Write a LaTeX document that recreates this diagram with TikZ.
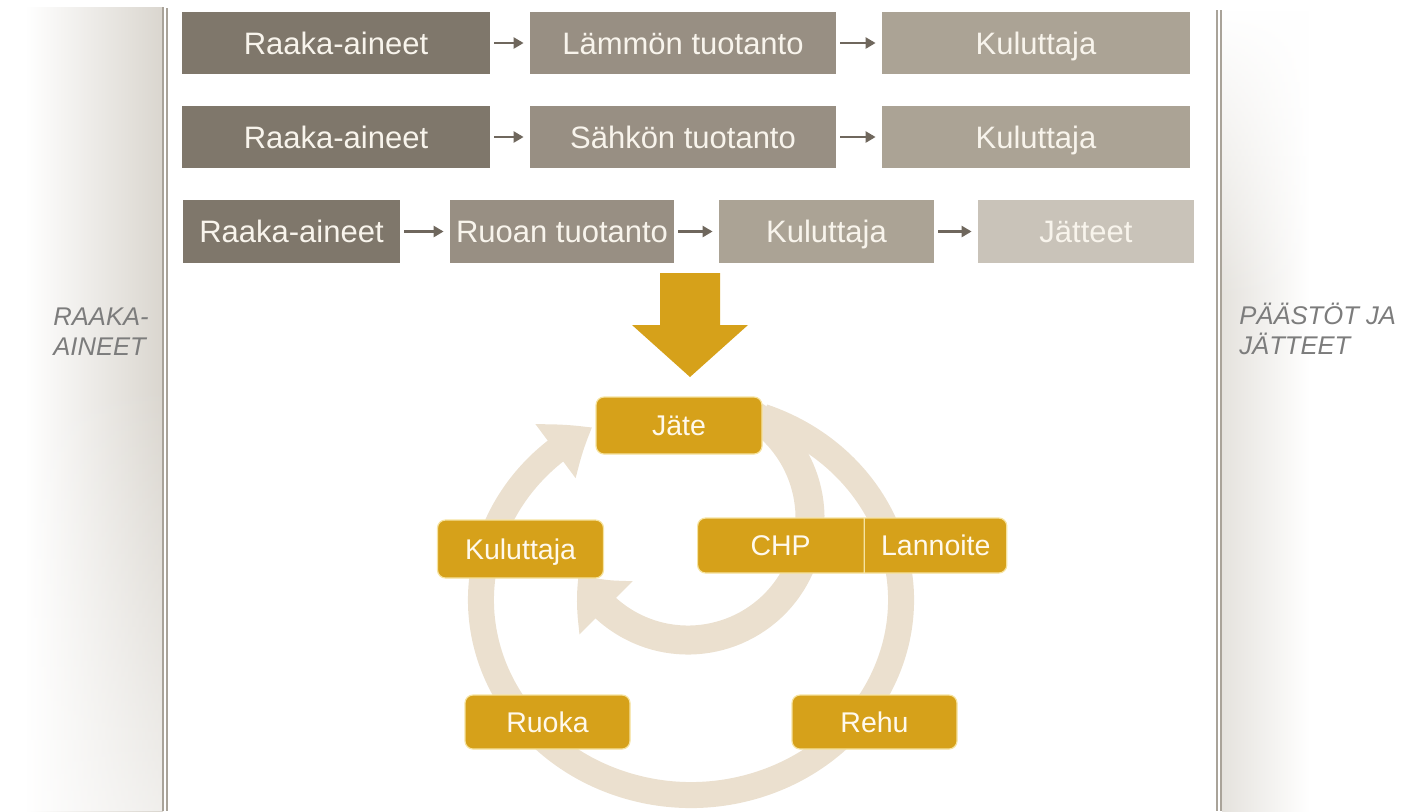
\documentclass[tikz,border=0pt]{standalone}
\usepackage{fontspec}
\setmainfont{Liberation Sans}
\usetikzlibrary{arrows.meta,bending,shapes.multipart,fadings}
\definecolor{rawgray}{HTML}{7F776B}
\definecolor{midgray}{HTML}{988F83}
\definecolor{usegray}{HTML}{ABA395}
\definecolor{wastegray}{HTML}{C9C3B9}
\definecolor{linkgray}{HTML}{6F675D}
\definecolor{boxtext}{HTML}{F8F4EC}
\definecolor{gold}{HTML}{D6A11A}
\definecolor{goldrim}{HTML}{F6E3A0}
\definecolor{cyclewhite}{HTML}{FFF9EC}
\definecolor{ringbeige}{HTML}{EBE0CF}
\definecolor{sidegray}{HTML}{DAD6CF}
\definecolor{rulegray}{HTML}{A9A399}
\definecolor{labelgray}{HTML}{7C7C7C}

\tikzset{
  flowbox/.style={fill=#1,text=boxtext,inner sep=0pt,minimum height=31pt,
    text height=14pt,text depth=2.9pt,font=\fontsize{15.5}{18}\selectfont},
  link/.style={->,linkgray,line width=1.2pt,shorten <=2pt,shorten >=3pt},
  cyclebase/.style={fill=gold,draw=goldrim,line width=0.6pt,rounded corners=4pt,
    text=cyclewhite,inner sep=0pt,font=\fontsize{14.25}{17}\selectfont},
  cyclebox/.style={cyclebase,minimum width=83pt,minimum height=28.5pt,
    text height=13pt,text depth=2.8pt},
  ring/.style={ringbeige},
  sidelabel/.style={text=labelgray,inner sep=0pt,align=left,
    font=\fontsize{12.8}{15}\selectfont\itshape}
}

\begin{document}
\begin{tikzpicture}[x=0.5pt,y=-0.5pt,>={Triangle[length=5pt,width=5.5pt]}]
  \useasboundingbox (0,0) rectangle (1402,811);
  % side panels
  \shade[left color=white,right color=sidegray] (25,7) rectangle (163,811);
  \fill[white,path fading=north,opacity=.6] (0,380) rectangle (163,811);
  \shade[left color=sidegray!70,right color=white] (1222,10) rectangle (1310,811);
  \fill[white,path fading=south] (1222,10) rectangle (1310,300);
  \draw[rulegray,line width=0.8pt] (163,7)--(163,811) (167,8)--(167,811);
  \draw[rulegray,line width=0.8pt] (1217,10)--(1217,811) (1221,10)--(1221,811);
  \node[sidelabel,anchor=north west] (rawlabel) at (53,307) {RAAKA-\\AINEET};
  \node[sidelabel,anchor=north west] (emislabel) at (1239,303) {PÄÄSTÖT JA\\JÄTTEET};

  % linear chains
  \foreach \r/\y/\prod in {1/43/{Lämmön tuotanto},2/137/{Sähkön tuotanto}}{
    \node[flowbox=rawgray,minimum width=154pt] (raw\r) at (336,\y) {Raaka-aineet};
    \node[flowbox=midgray,minimum width=153pt] (prod\r) at (683,\y) {\prod};
    \node[flowbox=usegray,minimum width=154pt] (user\r) at (1036,\y) {Kuluttaja};
    \draw[link] (raw\r) -- (prod\r);
    \draw[link] (prod\r) -- (user\r);
  }
  \node[flowbox=rawgray,minimum width=108.5pt,minimum height=31.5pt] (raw3) at (291.5,231.5) {Raaka-aineet};
  \node[flowbox=midgray,minimum width=112pt,minimum height=31.5pt] (prod3) at (562,231.5) {Ruoan tuotanto};
  \node[flowbox=usegray,minimum width=107.5pt,minimum height=31.5pt] (user3) at (826.5,231.5) {Kuluttaja};
  \node[flowbox=wastegray,minimum width=108pt,minimum height=31.5pt] (waste3) at (1086,231.5) {Jätteet};
  \draw[link] (raw3) -- (prod3);
  \draw[link] (prod3) -- (user3);
  \draw[link] (user3) -- (waste3);

  % big arrow down
  \fill[gold] (660,273) -- (720,273) -- (720,325) -- (748,325) -- (690,377)
    -- (632,325) -- (660,325) -- cycle;

  % cycle
  \draw[ring,line width=13pt,-{Triangle[length=22pt,width=32pt,bend]}]
    (691,600) ++(-70:210 and 195) arc[start angle=-70,end angle=242,x radius=210,y radius=195];
  \draw[ring,line width=14.5pt,-{Triangle[length=22pt,width=36pt,bend]}]
    (688,518) ++(-60:122) arc[start angle=-60,end angle=153,radius=122];
  \node[cyclebox] (jate) at (679,425.5) {Jäte};
  \node[cyclebox,minimum height=29pt] (cons) at (520.5,549) {Kuluttaja};
  \node[cyclebox,minimum width=82.5pt,minimum height=27pt] (food) at (547.5,722) {Ruoka};
  \node[cyclebox,minimum width=82.5pt,minimum height=27pt] (feed) at (874.5,722) {Rehu};
  \node[cyclebase,rectangle split,rectangle split horizontal,rectangle split parts=2,anchor=west] (chp) at (697,545.5)
    {\makebox[83pt]{\rule[-8.65pt]{0pt}{27.5pt}CHP}\nodepart{two}\makebox[71pt]{\rule[-8.65pt]{0pt}{27.5pt}Lannoite}};
\end{tikzpicture}
\end{document}
